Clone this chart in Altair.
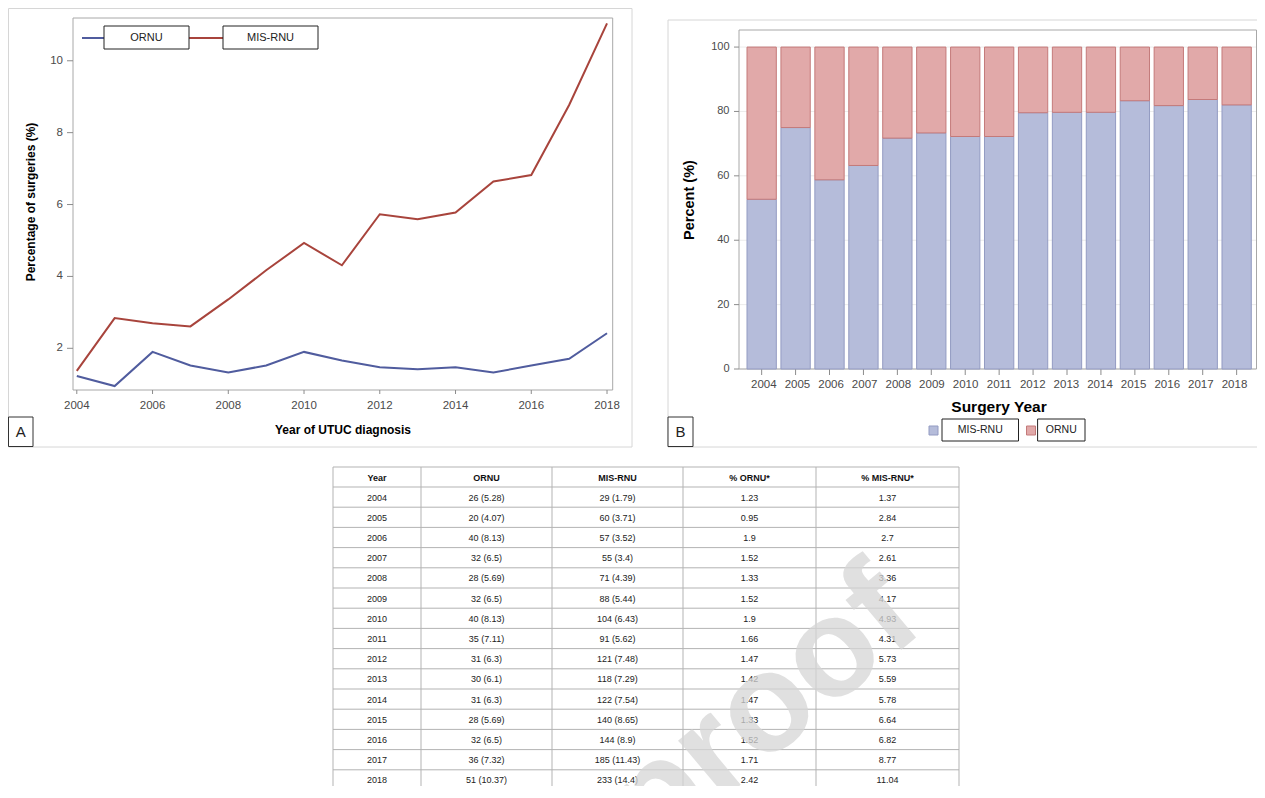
import altair as alt
import pandas as pd

# ---------------- data ----------------
years = [2004, 2005, 2006, 2007, 2008, 2009, 2010, 2011, 2012, 2013, 2014, 2015, 2016, 2017, 2018]
ornu_n = [26, 20, 40, 32, 28, 32, 40, 35, 31, 30, 31, 28, 32, 36, 51]
ornu_share = [5.28, 4.07, 8.13, 6.5, 5.69, 6.5, 8.13, 7.11, 6.3, 6.1, 6.3, 5.69, 6.5, 7.32, 10.37]
mis_n = [29, 60, 57, 55, 71, 88, 104, 91, 121, 118, 122, 140, 144, 185, 233]
mis_share = [1.79, 3.71, 3.52, 3.4, 4.39, 5.44, 6.43, 5.62, 7.48, 7.29, 7.54, 8.65, 8.9, 11.43, 14.4]
ornu_rate = [1.23, 0.95, 1.9, 1.52, 1.33, 1.52, 1.9, 1.66, 1.47, 1.42, 1.47, 1.33, 1.52, 1.71, 2.42]
mis_rate = [1.37, 2.84, 2.7, 2.61, 3.36, 4.17, 4.93, 4.31, 5.73, 5.59, 5.78, 6.64, 6.82, 8.77, 11.04]
a_xticks = [2004, 2006, 2008, 2010, 2012, 2014, 2016, 2018]
a_yticks = [2, 4, 6, 8, 10]
b_yticks = [0, 20, 40, 60, 80, 100]
headers = ["Year", "ORNU", "MIS-RNU", "% ORNU*", "% MIS-RNU*"]

# ---------------- styles / layout ----------------
BLUE = "#505c9e"
RED = "#a8443c"
MIS_FILL = "#b5bcda"
ORNU_FILL = "#e1a9a9"
MIS_EDGE = "#939bc2"
ORNU_EDGE = "#c47a7a"
FRAME = "#d6d6d6"
PLOTBOX = "#a8a8a8"
LABEL = "#4a4a4a"
TICK = "#8c8c8c"
FONT = "Liberation Sans"
W, H = 1249, 778          # whole canvas (page minus 8px margin)


def c(v):
    """page pixel -> canvas pixel"""
    return v - 8


def S(domain, rng):
    return alt.Scale(domain=domain, range=rng, nice=False, zero=False)


AX = S([2003.9, 2018.15], [c(73), c(612.7)])
AY = S([0.84, 11.19], [c(390), c(18)])
BX = alt.Scale(domain=years, range=[c(747), c(1251.3)], paddingInner=0.136, paddingOuter=0)
BY = S([0, 105.3], [c(369), c(30)])
IX = S([0, W], [0, W])
IY = S([0, H], [0, H])

one = pd.DataFrame({"k": [0]})


def rect(x, y, x2, y2, stroke="#222222", fill="white", sw=1.0):
    return alt.Chart(one).mark_rect(fill=fill, stroke=stroke, strokeWidth=sw).encode(
        x=alt.value(c(x)), x2=alt.value(c(x2)), y=alt.value(c(y)), y2=alt.value(c(y2)))


def hrule(x, x2, y, color, sw=1.0):
    return alt.Chart(one).mark_rule(color=color, strokeWidth=sw).encode(
        x=alt.value(c(x)), x2=alt.value(c(x2)), y=alt.value(c(y)))


def vrule(x, y, y2, color, sw=1.0):
    return alt.Chart(one).mark_rule(color=color, strokeWidth=sw).encode(
        x=alt.value(c(x)), y=alt.value(c(y)), y2=alt.value(c(y2)))


def label(x, y, s, size=11, weight="normal", color="#222222", angle=0, opacity=1.0):
    return alt.Chart(one).mark_text(text=s, fontSize=size, fontWeight=weight, color=color,
                                    align="center", baseline="middle", angle=angle,
                                    opacity=opacity).encode(
        x=alt.value(c(x)), y=alt.value(c(y)))


layers = []

# ---------------- frames ----------------
layers.append(rect(8.5, 8.5, 632, 447, stroke=FRAME, fill="transparent"))
layers.append(hrule(668, 1257, 20, FRAME))
layers.append(vrule(668, 20, 447, FRAME))
layers.append(hrule(668, 1257, 447, FRAME))

# ---------------- Panel A: axes ----------------
ax_df = pd.DataFrame({"v": a_xticks, "t": [str(v) for v in a_xticks]})
ay_df = pd.DataFrame({"v": a_yticks, "t": [str(v) for v in a_yticks]})
layers.append(rect(73, 18, 612.7, 390, stroke=PLOTBOX, fill="transparent"))
layers.append(alt.Chart(ax_df).mark_rule(color=TICK).encode(
    x=alt.X("v:Q", scale=AX, axis=None), y=alt.value(c(390)), y2=alt.value(c(394))))
layers.append(alt.Chart(ax_df).mark_text(fontSize=11.5, color=LABEL, align="center",
                                         baseline="middle").encode(
    x=alt.X("v:Q", scale=AX, axis=None), y=alt.value(c(406)), text="t:N"))
layers.append(alt.Chart(ay_df).mark_rule(color=TICK).encode(
    y=alt.Y("v:Q", scale=AY, axis=None), x=alt.value(c(67)), x2=alt.value(c(73))))
layers.append(alt.Chart(ay_df).mark_text(fontSize=11.5, color=LABEL, align="right",
                                         baseline="middle").encode(
    y=alt.Y("v:Q", scale=AY, axis=None), x=alt.value(c(63)), text="t:N"))

# ---------------- Panel A: lines ----------------
rate_df = pd.DataFrame({
    "year": years + years,
    "line_group": ["ORNU"] * len(years) + ["MIS-RNU"] * len(years),
    "rate": ornu_rate + mis_rate,
})
layers.append(alt.Chart(rate_df).mark_line(strokeWidth=2).encode(
    x=alt.X("year:Q", scale=AX, axis=None),
    y=alt.Y("rate:Q", scale=AY, axis=None),
    color=alt.Color("line_group:N", scale=alt.Scale(domain=["ORNU", "MIS-RNU"], range=[BLUE, RED]),
                    legend=None),
))

# ---------------- Panel B: grid, axes ----------------
by_df = pd.DataFrame({"v": b_yticks, "t": [str(v) for v in b_yticks]})
bx_df = pd.DataFrame({"year": years, "t": [str(v) for v in years]})
layers.append(alt.Chart(by_df).mark_rule(color="#ebebeb").encode(
    y=alt.Y("v:Q", scale=BY, axis=None), x=alt.value(c(739)), x2=alt.value(c(1256.5))))
layers.append(rect(739, 30, 1256.5, 369, stroke=PLOTBOX, fill="transparent"))
layers.append(alt.Chart(by_df).mark_rule(color=TICK).encode(
    y=alt.Y("v:Q", scale=BY, axis=None), x=alt.value(c(734)), x2=alt.value(c(739))))
layers.append(alt.Chart(by_df).mark_text(fontSize=11, color=LABEL, align="right",
                                         baseline="middle").encode(
    y=alt.Y("v:Q", scale=BY, axis=None), x=alt.value(c(729.5)), text="t:N"))
layers.append(alt.Chart(bx_df).mark_rule(color=TICK).encode(
    x=alt.X("year:O", scale=BX, axis=None), y=alt.value(c(369)), y2=alt.value(c(375))))
layers.append(alt.Chart(bx_df).mark_text(fontSize=11.5, color=LABEL, align="center",
                                         baseline="middle").encode(
    x=alt.X("year:O", scale=BX, axis=None), y=alt.value(c(384.5)), text="t:N"))

# ---------------- Panel B: 100% stacked bars ----------------
counts_df = pd.DataFrame({
    "year": years + years,
    "bar_group": ["MIS-RNU"] * len(years) + ["ORNU"] * len(years),
    "count": mis_n + ornu_n,
})
layers.append(alt.Chart(counts_df).transform_joinaggregate(
    total="sum(count)", groupby=["year"]
).transform_calculate(
    pct="datum.count / datum.total * 100",
    ord="datum.bar_group == 'MIS-RNU' ? 0 : 1",
).mark_bar(strokeWidth=1).encode(
    x=alt.X("year:O", scale=BX, axis=None),
    y=alt.Y("pct:Q", stack="zero", scale=BY, axis=None),
    color=alt.Color("bar_group:N", scale=alt.Scale(domain=["MIS-RNU", "ORNU"],
                                                   range=[MIS_FILL, ORNU_FILL]), legend=None),
    stroke=alt.Stroke("bar_group:N", scale=alt.Scale(domain=["MIS-RNU", "ORNU"],
                                                     range=[MIS_EDGE, ORNU_EDGE]), legend=None),
    order=alt.Order("ord:Q"),
))

# ---------------- legends, panel letters, titles ----------------
layers += [
    hrule(82, 104, 38, BLUE, 2),
    hrule(189, 223, 38, RED, 2),
    rect(104, 26, 189, 49),
    rect(223, 26, 318, 49),
    label(146.5, 38, "ORNU", 11),
    label(270.5, 38, "MIS-RNU", 11),
    rect(929, 426, 938, 435, stroke=MIS_EDGE, fill=MIS_FILL),
    rect(942, 419, 1018.5, 441),
    label(980.25, 430, "MIS-RNU", 10.5),
    rect(1026.5, 426, 1035.5, 435, stroke=ORNU_EDGE, fill=ORNU_FILL),
    rect(1037.6, 419, 1085, 441),
    label(1061.3, 430, "ORNU", 10.5),
    rect(8.5, 417, 33, 446.5, stroke="#333333"),
    label(20.75, 432, "A", 15),
    rect(668, 417, 693, 446.5, stroke="#333333"),
    label(680.5, 432, "B", 15),
    label(343, 430, "Year of UTUC diagnosis", 12, "bold", "#000000"),
    label(31, 202, "Percentage of surgeries (%)", 12, "bold", "#000000", 270),
    label(999, 407, "Surgery Year", 15.5, "bold", "#000000"),
    label(690, 200, "Percent (%)", 14.5, "bold", "#000000", 270),
]

# ---------------- Table ----------------
col_edges = [333, 421, 552, 683, 816, 959]
table_top, header_bottom, row_h = 467, 487, 20.2
centers = [(col_edges[j] + col_edges[j + 1]) / 2 for j in range(len(headers))]

head_df = pd.DataFrame({"x": [c(v) for v in centers],
                        "y": [c(478)] * len(headers), "text": headers})
body_rows = []
for i in range(len(years)):
    vals = [str(years[i]),
            f"{ornu_n[i]} ({ornu_share[i]})",
            f"{mis_n[i]} ({mis_share[i]})",
            str(ornu_rate[i]),
            str(mis_rate[i])]
    for j, v in enumerate(vals):
        body_rows.append({"x": c(centers[j]), "y": c(header_bottom + 10.5 + row_h * i), "text": v})
body_df = pd.DataFrame(body_rows)

hl = [table_top, header_bottom] + [header_bottom + row_h * (k + 1) for k in range(len(years))]
hline_df = pd.DataFrame({"y": [c(v) for v in hl],
                         "x": [c(col_edges[0])] * len(hl), "x2": [c(col_edges[-1])] * len(hl)})
vline_df = pd.DataFrame({"x": [c(v) for v in col_edges],
                         "y": [c(table_top)] * len(col_edges), "y2": [H + 20] * len(col_edges)})

layers.append(alt.Chart(hline_df).mark_rule(color="#b3b3b3").encode(
    x=alt.X("x:Q", scale=IX, axis=None), x2="x2:Q", y=alt.Y("y:Q", scale=IY, axis=None)))
layers.append(alt.Chart(vline_df).mark_rule(color="#b3b3b3").encode(
    x=alt.X("x:Q", scale=IX, axis=None), y=alt.Y("y:Q", scale=IY, axis=None), y2="y2:Q"))
layers.append(alt.Chart(head_df).mark_text(fontSize=9, fontWeight="bold", color="#111111",
                                           baseline="middle", align="center").encode(
    x=alt.X("x:Q", scale=IX, axis=None), y=alt.Y("y:Q", scale=IY, axis=None), text="text:N"))
layers.append(alt.Chart(body_df).mark_text(fontSize=9, color="#222222",
                                           baseline="middle", align="center").encode(
    x=alt.X("x:Q", scale=IX, axis=None), y=alt.Y("y:Q", scale=IY, axis=None), text="text:N"))
layers.append(label(763, 711, "proof", 140, "bold", "#d6d6d6", 320, 0.75))

chart = alt.layer(*layers).resolve_scale(
    x="independent", y="independent", color="independent", stroke="independent"
).properties(
    width=W, height=H, padding=0, autosize=alt.AutoSizeParams(type="none")
).configure(font=FONT).configure_view(stroke="transparent")

chart.save("out.html", embed_options={"renderer": "svg", "actions": False})
